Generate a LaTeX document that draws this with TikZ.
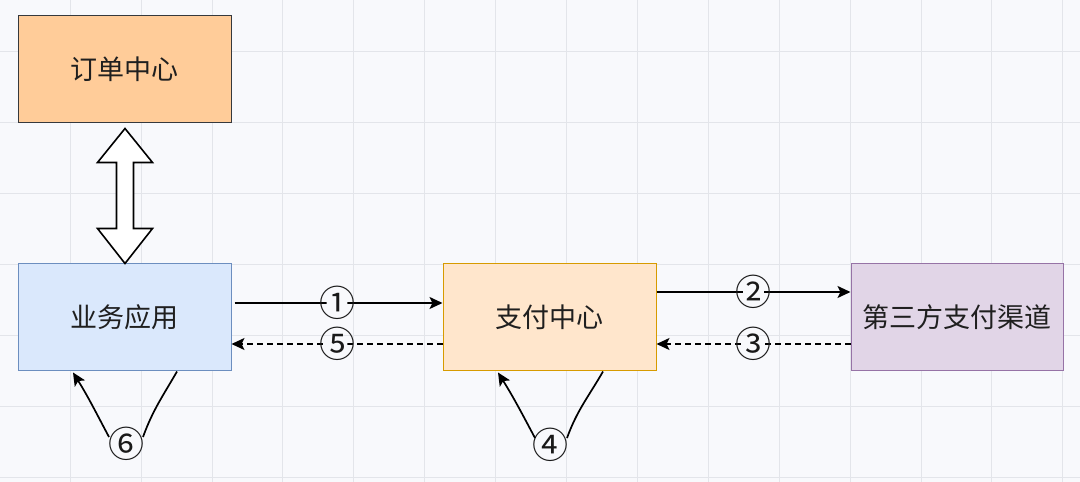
\documentclass[tikz,border=0pt]{standalone}
\usepackage{fontspec}
\newfontfamily\cjk{Noto Sans CJK SC}
\usetikzlibrary{arrows.meta,calc}
\definecolor{bg}{HTML}{F8F9FC}
\definecolor{gridc}{HTML}{E3E5EA}
\definecolor{orderfill}{HTML}{FFCC99}
\definecolor{orderdraw}{HTML}{36393D}
\definecolor{bizfill}{HTML}{DAE8FC}
\definecolor{bizdraw}{HTML}{6C8EBF}
\definecolor{payfill}{HTML}{FFE6CC}
\definecolor{paydraw}{HTML}{D79B00}
\definecolor{thirdfill}{HTML}{E1D5E7}
\definecolor{thirddraw}{HTML}{9673A6}
\begin{document}
\begin{tikzpicture}[x=1pt,y=1pt,
  box/.style={draw, line width=1pt, minimum width=213pt, minimum height=107pt, inner sep=0pt,
    font=\cjk\fontsize{27}{27}\selectfont, text=black!88},
  plain/.style={line width=1.7pt},
  arr/.style={line width=1.7pt, -{Stealth[length=13pt,width=12pt,inset=3pt]}},
  dsh/.style={arr, dash pattern=on 6pt off 4pt},
  lbl/.style={circle, fill=bg, inner sep=-10pt, font=\cjk\fontsize{36}{36}\selectfont, text=black!90},
]
\useasboundingbox (0,0) rectangle (1080,482);
\fill[bg] (0,0) rectangle (1080,482);
\foreach \k in {1,...,15} {
  \draw[gridc, line width=1pt] ({-0.7+70.9*\k},0) -- ({-0.7+70.9*\k},482);
}
\foreach \yy in {4.9,75.8,146.7,217.6,288.5,359.4,430.3} {
  \draw[gridc, line width=1pt] (0,\yy) -- (1080,\yy);
}

\node[box, fill=orderfill, draw=orderdraw] (order) at (124.5,412.5) {订单中心};
\node[box, fill=bizfill, draw=bizdraw] (biz) at (124.5,164.5) {业务应用};
\node[box, fill=payfill, draw=paydraw] (pay) at (549.5,164.5) {支付中心};
\node[box, fill=thirdfill, draw=thirddraw, minimum width=212pt] (third) at (957,164.5) {第三方支付渠道};

% double arrow between order and biz
\coordinate (dt) at ($(order.south)+(0.5,-5)$);
\coordinate (db) at ($(biz.north)+(0.5,0)$);
\draw[line width=1.6pt, fill=white, line join=miter]
  (dt) -- ++(27.5,-34) -- ++(-19,0) -- ($(db)+(8.5,35)$) -- ++(19,0) -- (db)
  -- ++(-27.5,35) -- ++(19,0) -- ($(dt)+(-8.5,-34)$) -- ++(-19,0) -- cycle;

% horizontal connectors
\draw[arr, shorten <=3pt] ([yshift=14.5pt]biz.east) -- node[lbl] {①} ([yshift=14.5pt]pay.west);
\draw[dsh] ([yshift=-26.5pt]pay.west) -- node[lbl] {⑤} ([yshift=-26.5pt]biz.east);
\draw[arr] ([yshift=25.5pt]pay.east) -- node[lbl] {②} ([yshift=25.5pt]third.west);
\draw[dsh] ([yshift=-26.5pt]third.west) -- node[lbl] {③} ([yshift=-26.5pt]pay.east);

% self loops
\node[lbl] (l6) at (126,38) {⑥};
\coordinate (b6s) at ($(biz.south)+(52.5,0)$);
\coordinate (b6e) at ($(biz.south)+(-51.5,-1)$);
\coordinate (l6r) at ($(l6)+(17,7)$);
\coordinate (l6l) at ($(l6)+(-17,7)$);
\draw[plain] (b6s) to[out=-120,in=70] (l6r);
\draw[arr] (l6l) to[out=118,in=-58] (b6e);

\node[lbl] (l4) at (550,37) {④};
\coordinate (p4s) at ($(pay.south)+(53.5,0)$);
\coordinate (p4e) at ($(pay.south)+(-51.5,-1)$);
\coordinate (l4r) at ($(l4)+(17,7)$);
\coordinate (l4l) at ($(l4)+(-15,7)$);
\draw[plain] (p4s) to[out=-120,in=70] (l4r);
\draw[arr] (l4l) to[out=118,in=-58] (p4e);
\end{tikzpicture}
\end{document}
